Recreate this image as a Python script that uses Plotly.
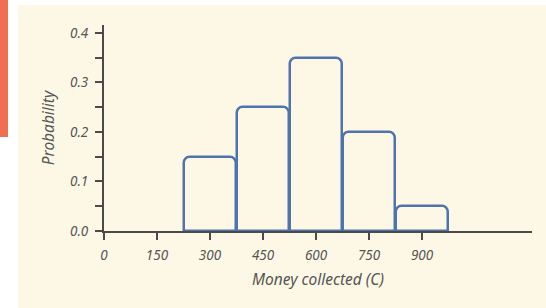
import plotly.graph_objects as go

money = [300, 450, 600, 750, 900]
prob = [0.15, 0.25, 0.35, 0.20, 0.05]
x_ticks = [0, 150, 300, 450, 600, 750, 900]
y_ticks = [0.0, 0.1, 0.2, 0.3, 0.4]

W, H = 546, 308
L, R, T, B = 104, 14, 25, 77
pw, ph = W - L - R, H - T - B

def px(x):
    return (x - L) / pw

def py(y):
    return (H - B - y) / ph

cream = "#fdf8e5"
axis_col = "#4a4a4a"
text_col = "#555555"
font_fam = "Noto Sans"

fig = go.Figure()
fig.add_trace(go.Bar(
    x=money, y=prob, width=146,
    marker=dict(color="rgba(0,0,0,0)", line=dict(color="#4f74ad", width=2.5), cornerradius=6),
    showlegend=False, hoverinfo="skip",
))

fig.update_layout(
    width=W, height=H,
    margin=dict(l=L, r=R, t=T, b=B),
    paper_bgcolor="white",
    plot_bgcolor="rgba(0,0,0,0)",
    font=dict(family=font_fam, color=text_col, size=12, style="italic"),
    shapes=[
        dict(type="rect", xref="paper", yref="paper", layer="below",
             x0=px(18), x1=px(W + 2), y0=py(H + 2), y1=py(5),
             fillcolor=cream, line=dict(width=0)),
        dict(type="rect", xref="paper", yref="paper", layer="below",
             x0=px(-2), x1=px(8), y0=py(137), y1=py(-2),
             fillcolor="#ef6f52", line=dict(width=0)),
    ],
    xaxis=dict(
        range=[0, 1211], tickvals=x_ticks, ticktext=[str(v) for v in x_ticks],
        showgrid=False, zeroline=False, showline=True, linecolor=axis_col, linewidth=2,
        ticks="outside", ticklen=7, tickwidth=2, tickcolor=axis_col, ticklabelstandoff=4,
        tickfont=dict(size=13.5, color=text_col, family=font_fam, style="italic"),
        title=dict(text="Money collected (C)", standoff=11,
                   font=dict(size=15.5, color="#555555", family=font_fam, style="italic")),
    ),
    yaxis=dict(
        range=[0, 0.416], tickvals=y_ticks, tickformat=".1f",
        showgrid=False, zeroline=False, showline=True, linecolor=axis_col, linewidth=2,
        ticks="outside", ticklen=7, tickwidth=2, tickcolor=axis_col, ticklabelstandoff=4,
        minor=dict(tickvals=[0.05, 0.15, 0.25, 0.35], ticks="outside", ticklen=7,
                   tickwidth=2, tickcolor=axis_col, showgrid=False),
        tickfont=dict(size=13.5, color=text_col, family=font_fam, style="italic"),
        title=dict(text="Probability", standoff=12,
                   font=dict(size=15.5, color="#555555", family=font_fam, style="italic")),
    ),
    bargap=0,
)

fig.write_html("out.html", config={"displayModeBar": False},
               post_script="document.body.style.margin='0';")
